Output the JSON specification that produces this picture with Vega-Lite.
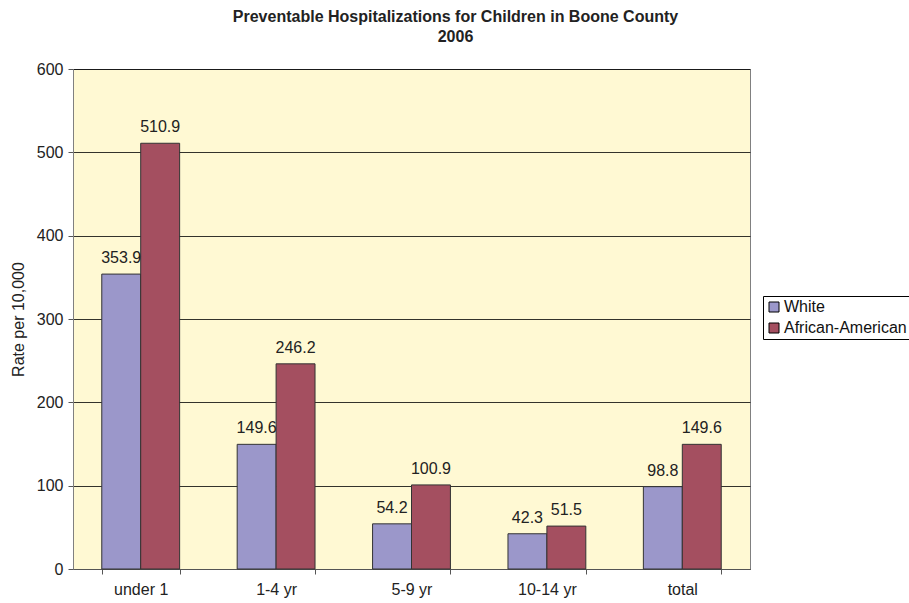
{
  "$schema": "https://vega.github.io/schema/vega-lite/v6.json",
  "width": 677,
  "height": 500,
  "autosize": {"type": "none"},
  "padding": {"left": 73, "top": 69, "right": 159, "bottom": 34},
  "background": "white",
  "title": {
    "text": ["Preventable Hospitalizations for Children in Boone County", "2006"],
    "font": "Liberation Sans",
    "fontSize": 16,
    "fontWeight": "bold",
    "color": "#222",
    "anchor": "middle",
    "dx": 44,
    "offset": 16,
    "lineHeight": 20
  },
  "config": {
    "view": {"fill": "#FFF9D3", "stroke": "#808080", "strokeWidth": 1},
    "font": "Liberation Sans"
  },
  "data": {
    "values": [
      {"age": "under 1", "race": "White", "rate": 353.9},
      {"age": "under 1", "race": "African-American", "rate": 510.9},
      {"age": "1-4 yr", "race": "White", "rate": 149.6},
      {"age": "1-4 yr", "race": "African-American", "rate": 246.2},
      {"age": "5-9 yr", "race": "White", "rate": 54.2},
      {"age": "5-9 yr", "race": "African-American", "rate": 100.9},
      {"age": "10-14 yr", "race": "White", "rate": 42.3},
      {"age": "10-14 yr", "race": "African-American", "rate": 51.5},
      {"age": "total", "race": "White", "rate": 98.8},
      {"age": "total", "race": "African-American", "rate": 149.6}
    ]
  },
  "encoding": {
    "x": {
      "field": "age",
      "type": "nominal",
      "sort": ["under 1", "1-4 yr", "5-9 yr", "10-14 yr", "total"],
      "scale": {"paddingInner": 0.425, "paddingOuter": 0.2125},
      "axis": {
        "title": null,
        "labelAngle": 0,
        "labelFontSize": 16,
        "labelColor": "#222",
        "labelPadding": 7,
        "tickBand": "extent",
        "tickSize": 5,
        "tickColor": "#555",
        "domainColor": "#555",
        "grid": false
      }
    },
    "xOffset": {
      "field": "race",
      "type": "nominal",
      "sort": ["White", "African-American"]
    },
    "y": {
      "field": "rate",
      "type": "quantitative",
      "scale": {"domain": [0, 600], "nice": false},
      "axis": {
        "title": "Rate per 10,000",
        "titleFontSize": 16,
        "titleFontWeight": "normal",
        "titleColor": "#222",
        "titlePadding": 10,
        "values": [0, 100, 200, 300, 400, 500, 600],
        "labelFontSize": 16,
        "labelColor": "#222",
        "labelPadding": 5,
        "tickSize": 5,
        "tickColor": "#555",
        "domainColor": "#808080",
        "gridColor": "#000",
        "gridWidth": 0.8
      }
    }
  },
  "layer": [
    {
      "mark": {"type": "bar", "stroke": "#333", "strokeWidth": 1},
      "encoding": {
        "color": {
          "field": "race",
          "type": "nominal",
          "sort": ["White", "African-American"],
          "scale": {"domain": ["White", "African-American"], "range": ["#9B97CA", "#A44F60"]},
          "legend": {
            "title": null,
            "orient": "none",
            "legendX": 690,
            "legendY": 227,
            "symbolType": "square",
            "symbolSize": 100,
            "symbolStrokeColor": "#000",
            "symbolStrokeWidth": 1,
            "labelFontSize": 16,
            "labelColor": "#111",
            "labelOffset": 2,
            "rowPadding": 5,
            "strokeColor": "#000",
            "padding": 3,
            "fillColor": "white"
          }
        }
      }
    },
    {
      "mark": {"type": "text", "baseline": "bottom", "dy": -8, "fontSize": 16, "color": "#222"},
      "encoding": {
        "text": {"field": "rate", "type": "quantitative", "format": ".1f"}
      }
    }
  ]
}
